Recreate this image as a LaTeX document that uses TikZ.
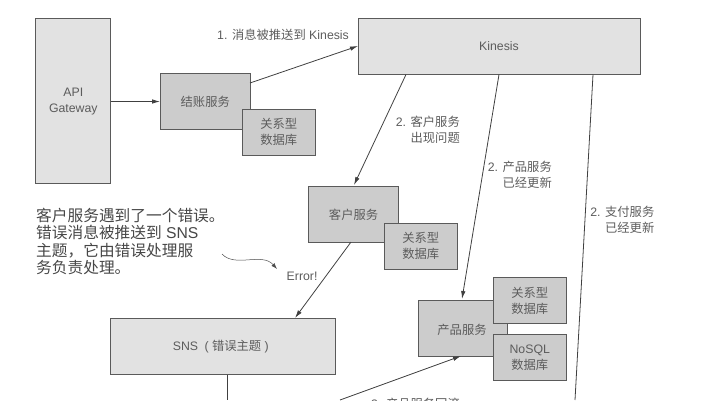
\documentclass[tikz,border=0pt]{standalone}
\usepackage{fontspec}
\setmainfont{Liberation Sans}
\newfontfamily\cjk{Noto Sans CJK SC}
\newcommand{\zh}[1]{{\cjk #1}}
\usetikzlibrary{arrows.meta}
\definecolor{lightbox}{HTML}{E2E2E2}
\definecolor{darkbox}{HTML}{CCCCCC}
\definecolor{edgec}{HTML}{5A5A5A}
\definecolor{txt}{HTML}{5C5C5C}
\tikzset{
  x=1pt,y=-1pt,
  boxbase/.style={draw=edgec,line width=1pt,inner sep=0pt,anchor=north west,text=txt,font=\fontsize{12.3}{16}\selectfont,align=center},
  lightb/.style={boxbase,fill=lightbox},
  darkb/.style={boxbase,fill=darkbox},
  lab/.style={text=txt,font=\fontsize{12.3}{16}\selectfont,inner sep=0pt,align=right},
  conn/.style={draw=black!75,line width=0.8pt,-{Latex[length=8pt,width=4.5pt]}},
  plainconn/.style={draw=black!75,line width=0.8pt},
}
\begin{document}
\begin{tikzpicture}
\useasboundingbox (0,0) rectangle (714,400);
\clip (0,0) rectangle (714,400);
\node[lightb,minimum width=75pt,minimum height=165pt] (api) at (35.3,18.3) {API\\Gateway};
\node[lightb,minimum width=282pt,minimum height=56pt] (kin) at (357.5,18.3) {\raisebox{1pt}{Kinesis}};
\node[darkb,minimum width=89.5pt,minimum height=56pt] (chk) at (160,73) {\zh{结账服务}};
\node[darkb,minimum width=72.5pt,minimum height=46pt] (chkdb) at (242,108.5) {\zh{关系型}\\\zh{数据库}};
\node[darkb,minimum width=89.5pt,minimum height=56pt] (cus) at (308.3,186) {\zh{客户服务}};
\node[darkb,minimum width=72.5pt,minimum height=46pt] (cusdb) at (384,222.5) {\zh{关系型}\\\zh{数据库}};
\node[lightb,minimum width=225pt,minimum height=56pt] (sns) at (110.3,318.3) {\hspace{-4pt}SNS\hspace{3pt} ( \zh{错误主题} )\hspace{1pt}};
\node[darkb,minimum width=89.5pt,minimum height=56pt] (prod) at (417.5,300) {};
\node[anchor=center,text=txt,font=\fontsize{12.3}{16}\selectfont,inner sep=0pt] (prodt) at (462,330) {\zh{产品服务}};
\node[darkb,minimum width=72.5pt,minimum height=46pt] (proddb) at (493,277) {\zh{关系型}\\\zh{数据库}};
\node[darkb,minimum width=72.5pt,minimum height=46pt] (nosql) at (493,334) {NoSQL\\\zh{数据库}};

\coordinate (k1) at (406,74.5);
\coordinate (k2) at (499,74.5);
\coordinate (k3) at (593,74.5);
\coordinate (c1) at (250,83);
\coordinate (c2) at (358,46);
\coordinate (cusin) at (354,185);
\coordinate (cusout) at (351,242);
\coordinate (snsin) at (295,318);
\coordinate (prodin) at (462,299);
\coordinate (payend) at (575,400);
\coordinate (snsdown) at (227,374.5);
\coordinate (snsend) at (227,400);
\coordinate (rbstart) at (340,400);
\coordinate (rbend) at (461,356);
\coordinate (cvA) at (222,254);
\coordinate (cvB) at (277,269);

\draw[conn] (api.east |- chk.west) -- (chk.west);
\draw[conn] (c1) -- (c2);
\draw[conn] (k1) -- (cusin);
\draw[conn] (k2) -- (prodin);
\draw[plainconn] (k3) -- (payend);
\draw[conn] (cusout) -- (snsin);
\draw[plainconn] (snsdown) -- (snsend);
\draw[conn] (rbstart) -- (rbend);
\draw[draw=black!70,line width=0.5pt,-{Latex[length=6pt,width=4pt]}] (cvA) .. controls (235,268) and (262,252) .. (cvB);

\node[lab,anchor=west] (l1) at (217,35) {1. \zh{消息被推送到} Kinesis};
\node[lab,anchor=north east] (l2) at (460,115.5) {2. \zh{客户服务}\\\zh{出现问题}};
\node[lab,anchor=north east] (l3) at (552,160.5) {2. \zh{产品服务}\\\zh{已经更新}};
\node[lab,anchor=north east] (l4) at (654.5,205.5) {2. \zh{支付服务}\\\zh{已经更新}};
\node[lab,anchor=west] (l5) at (286.5,276) {Error!};
\node[lab,anchor=west] (l6) at (371,404) {3. \zh{产品服务回滚}};
\node[anchor=north west,inner sep=0pt,text=black!72,font=\fontsize{15.7}{17.3}\selectfont,align=left] (note) at (36,208) {\zh{客户服务遇到了一个错误。}\\\zh{错误消息被推送到} SNS\\\zh{主题，它由错误处理服}\\\zh{务负责处理。}};
\end{tikzpicture}
\end{document}
